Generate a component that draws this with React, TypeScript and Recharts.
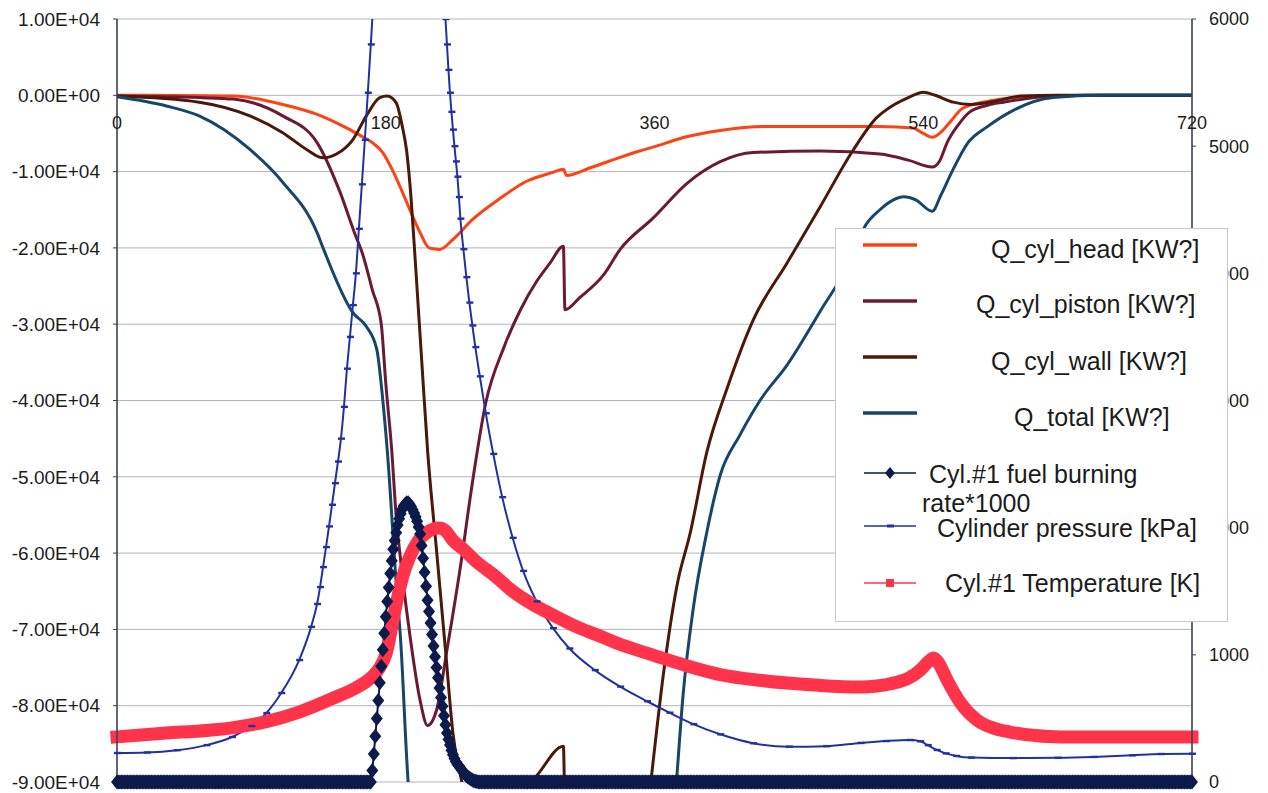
import { LineChart, Line, XAxis, YAxis, CartesianGrid, Legend, ReferenceDot } from 'recharts';

// crank angle ticks and axis ticks
const crankTicks = [0, 180, 360, 540, 720];
const heatTicks = [10000, 0, -10000, -20000, -30000, -40000, -50000, -60000, -70000, -80000, -90000];
const rightTicks = [0, 1000, 2000, 3000, 4000, 5000, 6000];

// Q_cyl_head [KW?]
const headDeg = [0, 40, 78, 111, 134, 149, 156, 165, 171, 178, 185, 194, 203, 209, 216, 225, 238, 256, 274, 292, 299, 301, 317, 339, 350, 359, 380, 404, 433, 470, 511, 533, 540, 546, 552, 558, 565, 575, 583, 600, 630, 660, 720];
const headKW = [0, -20, -100, -1200, -2500, -3800, -4500, -5500, -6200, -7500, -10000, -14000, -18000, -20000, -20200, -18900, -16300, -13600, -11300, -10100, -9700, -10500, -9500, -8000, -7300, -6800, -5500, -4600, -4100, -4100, -4100, -4300, -5000, -5500, -4800, -3500, -1900, -1100, -800, -300, -50, 0, 0];

// Q_cyl_piston [KW?]
const pistonDeg = [0, 55, 78, 111, 134, 149, 160, 164, 171, 177, 180, 184, 187, 190, 196, 203, 208, 214, 221, 230, 238, 247, 259, 270, 281, 290, 299, 300, 310, 326, 337, 359, 382, 404, 426, 471, 511, 530, 546, 551, 556, 563, 571, 583, 594, 620, 650, 720];
const pistonKW = [-100, -300, -500, -2700, -6200, -12500, -18500, -20500, -25500, -30000, -37700, -46500, -55200, -61000, -70500, -79300, -82600, -80600, -72700, -61800, -50800, -40300, -33100, -28200, -24400, -22000, -19800, -28100, -26500, -23500, -20200, -16100, -11500, -8700, -7500, -7300, -7700, -8500, -9400, -8600, -6200, -4000, -2200, -1300, -900, -200, 0, 0];

// Q_cyl_wall [KW?]
const wallDeg = [0, 55, 89, 111, 127, 138, 147, 158, 167, 176, 181, 187, 191, 194, 197, 200, 204, 208, 214, 220, 225, 231, 240, 260, 270, 275, 281, 299, 300, 320, 345, 352, 358, 366, 375, 384, 395, 409, 426, 449, 471, 493, 509, 516, 530, 540, 548, 560, 572, 590, 605, 630, 720];
const wallKW = [-100, -900, -2700, -4900, -7100, -8200, -7700, -5800, -2700, -300, -100, -1000, -4000, -7300, -13600, -22400, -34500, -46500, -59600, -72700, -83600, -90000, -96000, -95000, -92000, -90500, -89200, -85300, -93000, -100000, -104000, -99500, -89200, -75800, -64300, -57300, -46800, -38200, -29500, -21900, -14600, -7200, -2900, -1800, -300, 400, 0, -900, -1200, -700, -100, 0, 0];

// Q_total [KW?]
const totalDeg = [0, 33, 55, 89, 111, 134, 138, 158, 167, 174, 178, 181, 187, 190, 195, 198, 250, 320, 370, 375, 379, 386, 395, 404, 417, 431, 449, 471, 493, 500, 511, 520, 527, 535, 546, 552, 560, 570, 583, 600, 627, 660, 720];
const totalKW = [-200, -1400, -2700, -7100, -11400, -18000, -20000, -28500, -30300, -33300, -39900, -46500, -63900, -71500, -90000, -96000, -130000, -125000, -102000, -89200, -78900, -67200, -57300, -49800, -44600, -39900, -35300, -28300, -20900, -17500, -15000, -13700, -13300, -13700, -15200, -13000, -9700, -6200, -4100, -2000, -300, 0, 0];

// Cyl.#1 fuel burning rate*1000, one value per degree (zero outside 170..242)
const crankDeg = Array.from({ length: 721 }, (_, i) => i);
const burnStart = 170;
const burnPeak = [
  0, 90, 220, 360, 500, 640, 780, 910, 1040, 1170,
  1300, 1420, 1530, 1640, 1740, 1830, 1900, 1960, 2020, 2070,
  2110, 2145, 2170, 2185, 2195, 2195, 2185, 2165, 2140, 2115,
  2085, 2050, 2005, 1950, 1860, 1760, 1650, 1540, 1430, 1340,
  1250, 1160, 1070, 985, 900, 820, 740, 665, 595, 520,
  450, 385, 335, 290, 250, 215, 185, 160, 140, 125,
  110, 92, 76, 62, 50, 40, 31, 23, 16, 10,
  6, 3, 0,
];

// Cylinder pressure [kPa]
const presDeg = [0, 20, 40, 60, 77, 90, 100, 110, 122, 130, 134, 136, 138, 140, 142, 144, 146, 148, 150, 152, 154, 156, 158, 160, 162, 164, 166, 168, 170, 172, 176, 182, 190, 198, 206, 212, 216, 218, 219, 220, 221, 222, 223, 224, 225, 226, 227, 228, 229, 230, 232, 234, 236, 238, 240, 243, 247, 252, 258, 265, 272, 281, 292, 303, 320, 337, 355, 370, 386, 404, 426, 450, 475, 498, 515, 531, 538, 543, 549, 555, 562, 572, 600, 630, 654, 680, 699, 720];
const presKPa = [228, 232, 250, 290, 354, 440, 542, 700, 959, 1220, 1400, 1533, 1690, 1847, 2010, 2180, 2350, 2520, 2700, 2950, 3250, 3500, 3750, 4000, 4350, 4700, 5050, 5420, 5800, 6200, 7000, 8300, 9000, 9000, 8500, 7700, 6950, 6550, 6200, 6000, 5800, 5600, 5420, 5270, 5130, 5000, 4880, 4760, 4600, 4430, 4190, 3970, 3770, 3590, 3420, 3190, 2900, 2580, 2240, 1920, 1660, 1420, 1210, 1050, 880, 750, 635, 545, 455, 375, 305, 278, 282, 307, 322, 330, 320, 290, 252, 225, 205, 192, 188, 190, 197, 210, 220, 222];

// Cyl.#1 Temperature [K]
const tempDeg = [0, 33, 60, 78, 100, 122, 145, 160, 167, 172, 176, 180, 187, 192, 196, 202, 207, 212, 216, 220, 225, 232, 240, 254, 265, 277, 292, 308, 325, 340, 359, 380, 404, 430, 449, 470, 498, 520, 530, 538, 543, 547, 550, 556, 565, 576, 588, 598, 615, 632, 680, 720];
const tempK = [355, 385, 405, 428, 475, 550, 660, 740, 790, 840, 900, 1000, 1400, 1640, 1770, 1900, 1958, 1990, 1997, 1975, 1900, 1830, 1740, 1612, 1500, 1407, 1313, 1220, 1140, 1070, 998, 920, 845, 800, 778, 760, 747, 778, 815, 880, 940, 975, 940, 802, 621, 487, 420, 393, 365, 354, 354, 354];

const pts = (deg: number[], val: number[]) => deg.map((d, i) => ({ deg: d, v: val[i] }));

const headData = pts(headDeg, headKW);
const pistonData = pts(pistonDeg, pistonKW);
const wallData = pts(wallDeg, wallKW);
const totalData = pts(totalDeg, totalKW);
const burnData = crankDeg.map((d) => ({
  deg: d,
  v: d >= burnStart && d < burnStart + burnPeak.length ? burnPeak[d - burnStart] : 0,
}));
const presData = pts(presDeg, presKPa);
const tempData = pts(tempDeg, tempK);

const C = {
  head: '#ff4213',
  piston: '#6c1a33',
  wall: '#4b1809',
  total: '#16466b',
  burn: '#0c1a4c',
  pres: '#2231a2',
  temp: '#ff3349',
  grid: '#b0b4bf',
  axis: '#3a3e52',
  text: '#1c1c1c',
};

const sci = (v: number) => {
  if (v === 0) return '0.00E+00';
  const [m, e] = v.toExponential(2).split('e');
  const n = parseInt(e, 10);
  return `${m}E${n < 0 ? '-' : '+'}${String(Math.abs(n)).padStart(2, '0')}`;
};

const Diamond = (p: any) => {
  const { cx, cy, index } = p;
  if (cx == null || cy == null) return <g key={`bd${index}`} />;
  return <path key={`bd${index}`} d={`M${cx},${cy - 7.5}L${cx + 6},${cy}L${cx},${cy + 7.5}L${cx - 6},${cy}Z`} fill={C.burn} />;
};

const Dash = (p: any) => {
  const { cx, cy, index } = p;
  if (cx == null || cy == null) return <g key={`pd${index}`} />;
  return <rect key={`pd${index}`} x={cx - 3} y={cy - 1.2} width={7} height={2.4} fill={C.pres} />;
};

const legendRows = [
  { name: 'Q_cyl_head [KW?]', color: C.head, kind: 'line', ly: 16, tx: 155, ty: 20 },
  { name: 'Q_cyl_piston [KW?]', color: C.piston, kind: 'line', ly: 72, tx: 140, ty: 75 },
  { name: 'Q_cyl_wall [KW?]', color: C.wall, kind: 'line', ly: 128, tx: 155, ty: 132 },
  { name: 'Q_total [KW?]', color: C.total, kind: 'line', ly: 184, tx: 178, ty: 188 },
  { name: 'Cyl.#1 fuel burning', color: C.burn, kind: 'diamond', ly: 244, tx: 93, ty: 245 },
  { name: 'rate*1000', color: C.burn, kind: 'none', ly: 0, tx: 86, ty: 274 },
  { name: 'Cylinder pressure [kPa]', color: C.pres, kind: 'dash', ly: 297, tx: 101, ty: 299 },
  { name: 'Cyl.#1 Temperature [K]', color: C.temp, kind: 'square', ly: 354, tx: 109, ty: 354 },
];

function LegendBox() {
  return (
    <div style={{ width: 393, height: 394, background: '#fff', border: '1px solid #c8c8c8', boxSizing: 'border-box' }}>
      <svg width={391} height={392} style={{ display: 'block' }}>
        {legendRows.map((r) => (
          <g key={r.name}>
            {r.kind === 'line' && <line x1={27} x2={81} y1={r.ly} y2={r.ly} stroke={r.color} strokeWidth={3.5} />}
            {r.kind !== 'line' && r.kind !== 'none' && (
              <line x1={28} x2={80} y1={r.ly} y2={r.ly} stroke={r.color} strokeWidth={1.5} />
            )}
            {r.kind === 'diamond' && (
              <path d={`M54,${r.ly - 6}L59,${r.ly}L54,${r.ly + 6}L49,${r.ly}Z`} fill={r.color} />
            )}
            {r.kind === 'dash' && <rect x={51} y={r.ly - 1.5} width={7} height={3} fill={r.color} />}
            {r.kind === 'square' && <rect x={50} y={r.ly - 4} width={8} height={8} fill={r.color} />}
            <text x={r.tx} y={r.ty} fontSize={25} fill={C.text} dominantBaseline="central">
              {r.name}
            </text>
          </g>
        ))}
      </svg>
    </div>
  );
}

export default function App() {
  return (
    <div style={{ position: 'absolute', left: 0, top: 0, width: 1268, height: 793, background: '#fff', fontFamily: '"Liberation Sans", Arial, sans-serif' }}>
      <LineChart width={1268} height={793} margin={{ top: 19, right: 0, bottom: 10, left: 0 }}>
        <CartesianGrid yAxisId="left" stroke={C.grid} strokeWidth={1} />
        <XAxis
          dataKey="deg"
          type="number"
          domain={[0, 720]}
          ticks={crankTicks}
          tick={false}
          tickLine={false}
          axisLine={false}
          height={1}
        />
        <YAxis
          yAxisId="left"
          domain={[-90000, 10000]}
          ticks={heatTicks}
          allowDataOverflow
          width={117}
          tickFormatter={sci}
          tick={{ fontSize: 19, fill: C.text }}
          tickSize={4}
          tickMargin={13}
          axisLine={{ stroke: C.axis, strokeWidth: 1.5 }}
          tickLine={{ stroke: C.axis }}
        />
        <YAxis
          yAxisId="right"
          orientation="right"
          domain={[0, 6000]}
          ticks={rightTicks}
          allowDataOverflow
          width={76}
          tick={{ fontSize: 18, fill: C.text }}
          tickSize={4}
          tickMargin={13}
          axisLine={{ stroke: C.axis, strokeWidth: 1.5 }}
          tickLine={{ stroke: C.axis }}
        />
        <YAxis yAxisId="rt" orientation="right" domain={[0, 6000]} hide />

        {crankTicks.map((t) => (
          <ReferenceDot
            key={t}
            yAxisId="left"
            x={t}
            y={0}
            r={1}
            fill="none"
            stroke="none"
            ifOverflow="visible"
            label={{ value: String(t), position: 'bottom', offset: 20, fontSize: 18, fill: C.text }}
          />
        ))}

        <Line yAxisId="left" data={headData} dataKey="v" name="Q_cyl_head [KW?]" type="monotone" stroke={C.head} strokeWidth={3} dot={false} isAnimationActive={false} />
        <Line yAxisId="left" data={pistonData} dataKey="v" name="Q_cyl_piston [KW?]" type="monotone" stroke={C.piston} strokeWidth={3} dot={false} isAnimationActive={false} />
        <Line yAxisId="left" data={wallData} dataKey="v" name="Q_cyl_wall [KW?]" type="monotone" stroke={C.wall} strokeWidth={3} dot={false} isAnimationActive={false} />
        <Line yAxisId="left" data={totalData} dataKey="v" name="Q_total [KW?]" type="monotone" stroke={C.total} strokeWidth={3} dot={false} isAnimationActive={false} />
        <Line yAxisId="rt" data={burnData} dataKey="v" name="Cyl.#1 fuel burning rate*1000" type="linear" stroke={C.burn} strokeWidth={2} dot={Diamond} activeDot={false} isAnimationActive={false} />
        <Line yAxisId="right" data={presData} dataKey="v" name="Cylinder pressure [kPa]" type="monotone" stroke={C.pres} strokeWidth={2} dot={Dash} activeDot={false} isAnimationActive={false} />
        <Line yAxisId="rt" data={tempData} dataKey="v" name="Cyl.#1 Temperature [K]" type="monotone" stroke={C.temp} strokeWidth={13} strokeLinecap="square" dot={false} isAnimationActive={false} />

        <Legend
          layout="horizontal"
          align="center"
          verticalAlign="middle"
          content={() => <LegendBox />}
          wrapperStyle={{ left: 835, top: 228, width: 393, height: 394 }}
        />
      </LineChart>
    </div>
  );
}
